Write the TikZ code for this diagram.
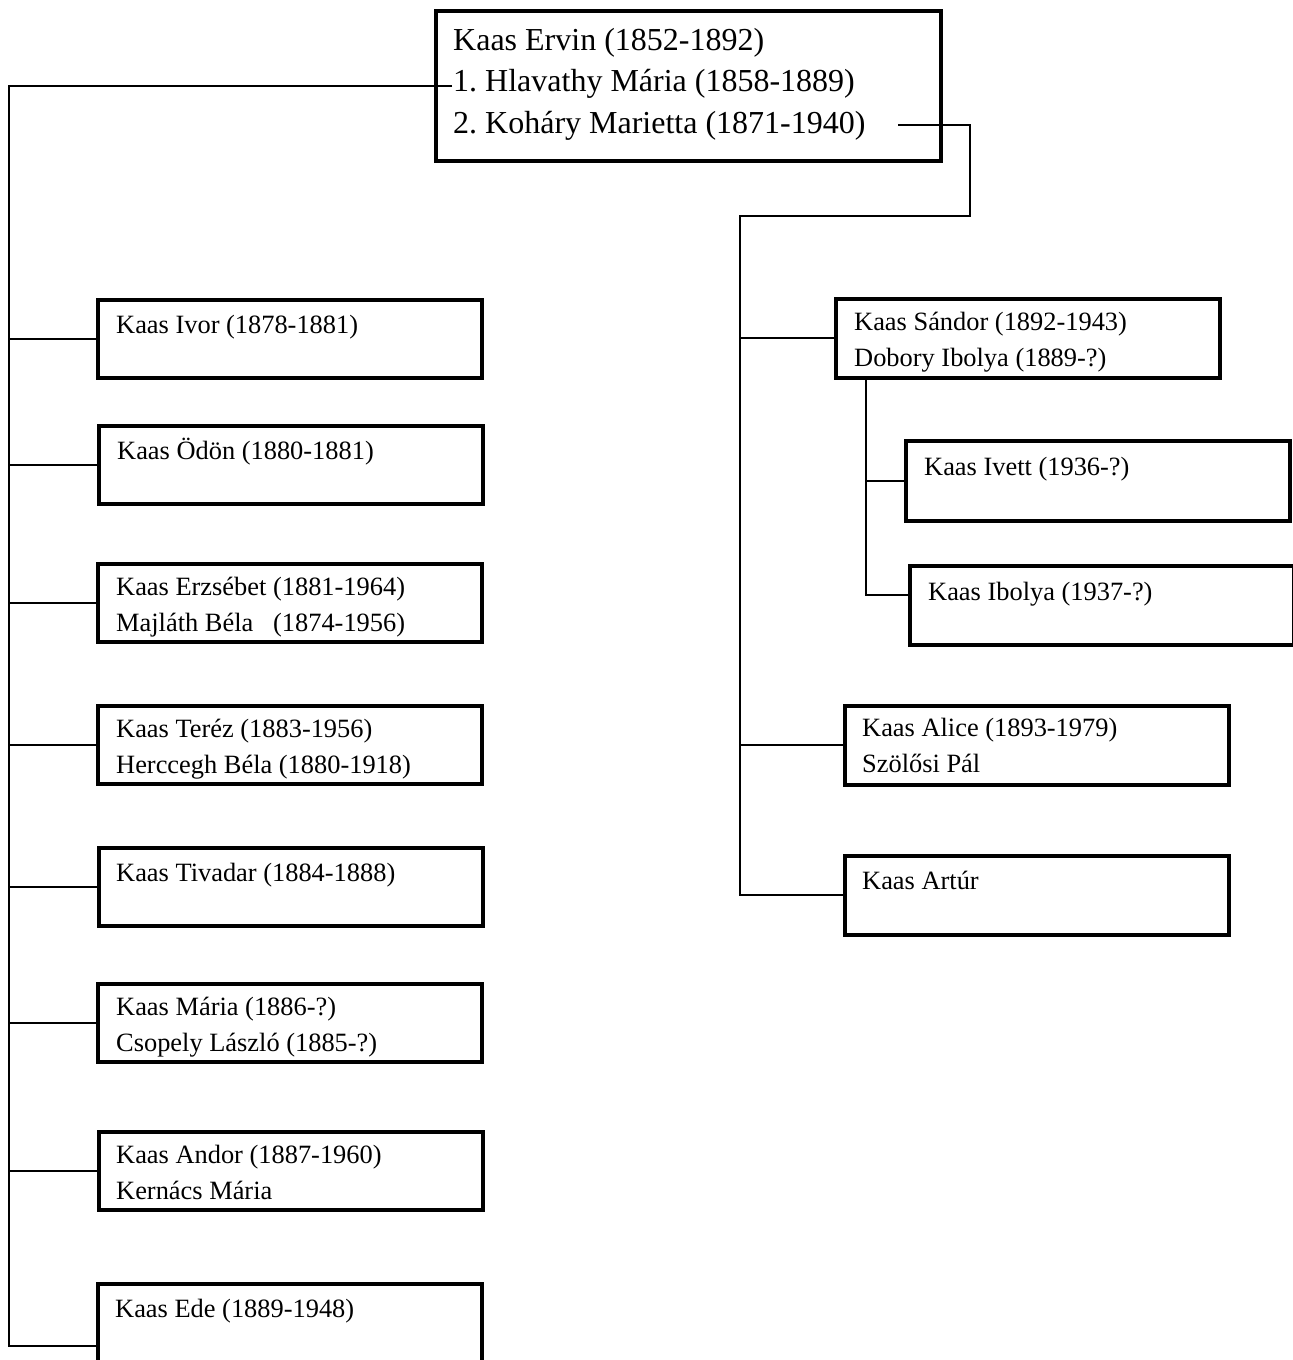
\documentclass[tikz,border=0pt]{standalone}
\usepackage{fontspec}
\setmainfont{Liberation Serif}
\frenchspacing
\newcommand\twolines[2]{\begin{tabular}[t]{@{}l@{}}#1\\#2\end{tabular}}
\newcommand\threelines[3]{\begin{tabular}[t]{@{}l@{}}#1\\#2\\#3\end{tabular}}
\begin{document}
\begin{tikzpicture}[x=1pt,y=-1pt,
  box/.style={draw, line width=3.5pt, rectangle, inner sep=0pt, anchor=north west,
              minimum width=384pt, minimum height=78pt},
  conn/.style={line width=1.6pt},
  txt/.style={anchor=base west, inner sep=0pt, font=\fontsize{26.4}{36}\selectfont},
  bigtxt/.style={anchor=base west, inner sep=0pt, font=\fontsize{32}{41.5}\selectfont}]
\useasboundingbox (0,0) rectangle (1293,1360);

% top box
\node[box, minimum width=505pt, minimum height=150pt] (top) at (434,9) {};
\node[bigtxt] (topT) at ([shift={(19,41)}]top.north west)
  {\threelines{Kaas Ervin (1852-1892)}{1. Hlavathy Mária (1858-1889)}{2. Koháry Marietta (1871-1940)}};

% left children
\node[box] (ivor)  at (96,298)  {};
\node[box] (odon)  at (97,424)  {};
\node[box] (erzs)  at (96,562)  {};
\node[box] (terez) at (96,704)  {};
\node[box] (tiv)   at (97,846)  {};
\node[box] (maria) at (96,982)  {};
\node[box] (andor) at (97,1130) {};
\node[box, minimum height=124pt] (ede) at (96,1282) {};

\node[txt] (ivorT)  at ([shift={(20,35)}]ivor.north west)  {Kaas Ivor (1878-1881)};
\node[txt] (odonT)  at ([shift={(20,35)}]odon.north west)  {Kaas Ödön (1880-1881)};
\node[txt] (erzsT)  at ([shift={(20,33)}]erzs.north west)  {\twolines{Kaas Erzsébet (1881-1964)}{Majláth Béla\ \ \ (1874-1956)}};
\node[txt] (terezT) at ([shift={(20,33)}]terez.north west) {\twolines{Kaas Teréz (1883-1956)}{Herccegh Béla (1880-1918)}};
\node[txt] (tivT)   at ([shift={(19,35)}]tiv.north west)   {Kaas Tivadar (1884-1888)};
\node[txt] (mariaT) at ([shift={(20,33)}]maria.north west) {\twolines{Kaas Mária (1886-?)}{Csopely László (1885-?)}};
\node[txt] (andorT) at ([shift={(19,33)}]andor.north west) {\twolines{Kaas Andor (1887-1960)}{Kernács Mária}};
\node[txt] (edeT)   at ([shift={(19,35)}]ede.north west)   {Kaas Ede (1889-1948)};

% right children
\node[box, minimum height=79pt] (sandor) at (834,297) {};
\node[box, minimum height=80pt] (ivett)  at (904,439) {};
\node[box, minimum height=79pt] (ibolya) at (908,564) {};
\node[box, minimum height=79pt] (alice)  at (843,704) {};
\node[box, minimum height=79pt] (artur)  at (843,854) {};

\node[txt] (sandorT) at ([shift={(20,33)}]sandor.north west) {\twolines{Kaas Sándor (1892-1943)}{Dobory Ibolya (1889-?)}};
\node[txt] (ivettT)  at ([shift={(20,36)}]ivett.north west)  {Kaas Ivett (1936-?)};
\node[txt] (ibolyaT) at ([shift={(20,36)}]ibolya.north west) {Kaas Ibolya (1937-?)};
\node[txt] (aliceT)  at ([shift={(19,32)}]alice.north west)  {\twolines{Kaas Alice (1893-1979)}{Szölősi Pál}};
\node[txt] (arturT)  at ([shift={(19,35)}]artur.north west)  {Kaas Artúr};

% connectors, left side
\coordinate (lx) at (9,0);
\coordinate (hl) at ([xshift=18pt]top.west);
\draw[conn] (hl) -- (hl -| lx) -- (lx |- ede.west) -- (ede.west);
\foreach \n in {ivor,odon,erzs,terez,tiv,maria,andor}
  \draw[conn] (lx |- \n.west) -- (\n.west);

% connectors, right side
\coordinate (kst) at (898,125);
\coordinate (rx) at (970,0);
\coordinate (rt) at (740,216);
\draw[conn] (kst) -- (kst -| rx) -- (rx |- rt) -- (rt) -- (rt |- artur.west) -- (artur.west);
\foreach \n in {sandor,alice}
  \draw[conn] (rt |- \n.west) -- (\n.west);

% Sándor's children
\coordinate (sx) at (866,0);
\coordinate (ibc) at (866,595);
\draw[conn] (sx |- sandor.south) -- (ibc) -- (ibc -| ibolya.west);
\draw[conn] (sx |- ivett.west) -- (ivett.west);
\end{tikzpicture}
\end{document}
